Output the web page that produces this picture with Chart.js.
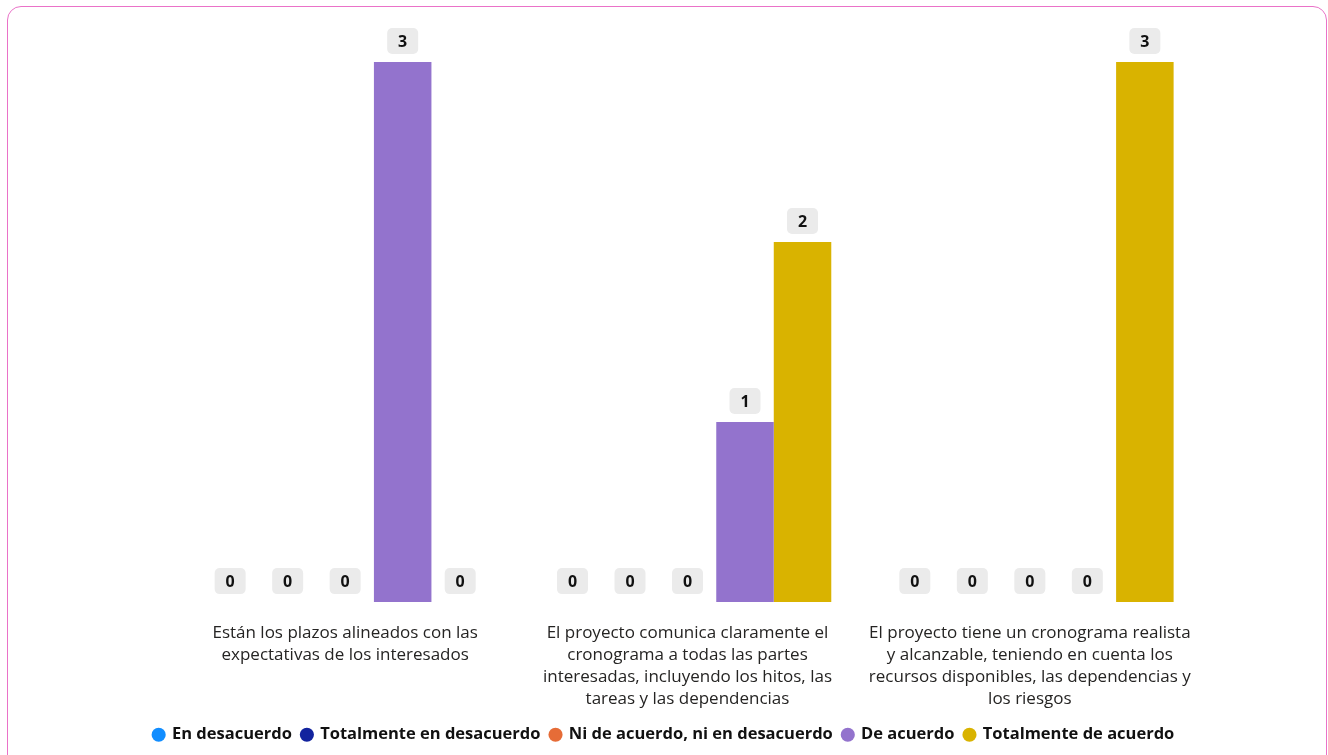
<!DOCTYPE html>
<html lang="es">
<head>
    <meta charset="UTF-8">
    <title>Plazos y cronograma</title>
    <script src="https://cdn.jsdelivr.net/npm/chart.js@4.4.0/dist/chart.umd.min.js"></script>
    <style>
        html, body { margin: 0; padding: 0; background: #fff; overflow: hidden; }
        .frame {
            position: absolute; left: 7px; top: 6px; width: 1320px; height: 800px;
            border: 1.5px solid #ea72c8; border-radius: 14px; box-sizing: border-box;
        }
        .wrap { position: absolute; left: 0; top: 0; width: 1328px; height: 755px; }
    </style>
</head>
<body>
    <div class="frame"></div>
    <div class="wrap"><canvas id="chart"></canvas></div>

    <script>
        // categories (x labels, already wrapped into lines)
        const categories = [
            ['Están los plazos alineados con las', 'expectativas de los interesados'],
            ['El proyecto comunica claramente el', 'cronograma a todas las partes', 'interesadas, incluyendo los hitos, las', 'tareas y las dependencias'],
            ['El proyecto tiene un cronograma realista', 'y alcanzable, teniendo en cuenta los', 'recursos disponibles, las dependencias y', 'los riesgos']
        ];

        const seriesNames = ['En desacuerdo', 'Totalmente en desacuerdo', 'Ni de acuerdo, ni en desacuerdo', 'De acuerdo', 'Totalmente de acuerdo'];
        const seriesColors = ['#118DFF', '#12239E', '#E66C37', '#9373CD', '#D9B300'];

        const enDesacuerdo = [0, 0, 0];
        const totalmenteEnDesacuerdo = [0, 0, 0];
        const niDeAcuerdo = [0, 0, 0];
        const deAcuerdo = [3, 1, 0];
        const totalmenteDeAcuerdo = [0, 2, 3];

        const seriesValues = [enDesacuerdo, totalmenteEnDesacuerdo, niDeAcuerdo, deAcuerdo, totalmenteDeAcuerdo];

        const FONT = "'Open Sans', 'Noto Sans', sans-serif";

        // grey value boxes above each bar
        const valueBoxes = {
            id: 'valueBoxes',
            afterDatasetsDraw(chart) {
                const ctx = chart.ctx;
                ctx.save();
                chart.data.datasets.forEach(function(ds, i) {
                    const meta = chart.getDatasetMeta(i);
                    if (meta.hidden) return;
                    meta.data.forEach(function(bar, j) {
                        const w = 31, h = 26;
                        const x = bar.x - w / 2;
                        const y = bar.y - 8 - h;
                        ctx.fillStyle = '#ebebeb';
                        ctx.beginPath();
                        ctx.roundRect(x, y, w, h, 5);
                        ctx.fill();
                        ctx.fillStyle = '#111';
                        ctx.font = 'bold 16px ' + FONT;
                        ctx.textAlign = 'center';
                        ctx.textBaseline = 'middle';
                        ctx.fillText(String(ds.data[j]), bar.x, y + h / 2 + 1);
                    });
                });
                ctx.restore();
            }
        };

        // invisible side axes just reserve room on the left and right
        const spacer = function(w) {
            return {
                display: true,
                grid: { display: false },
                border: { display: false },
                ticks: { display: false },
                afterFit: function(scale) { scale.width = w; }
            };
        };

        new Chart(document.getElementById('chart'), {
            type: 'bar',
            data: {
                labels: categories,
                datasets: seriesNames.map(function(name, i) {
                    return {
                        label: name,
                        data: seriesValues[i],
                        backgroundColor: seriesColors[i],
                        borderWidth: 0,
                        categoryPercentage: 0.84,
                        barPercentage: 1
                    };
                })
            },
            options: {
                responsive: true,
                maintainAspectRatio: false,
                animation: false,
                layout: { padding: { left: 0, right: 0, top: 62, bottom: 2 } },
                scales: {
                    x: {
                        grid: { display: false },
                        border: { display: false },
                        afterFit: function(scale) { scale.height -= 6; },
                        ticks: {
                            padding: 12,
                            maxRotation: 0,
                            autoSkip: false,
                            color: '#252423',
                            font: { family: FONT, size: 17, lineHeight: 1.3 }
                        }
                    },
                    y: Object.assign(spacer(174), { position: 'left', min: 0, max: 3 }),
                    yRight: Object.assign(spacer(127), { position: 'right', min: 0, max: 3 })
                },
                plugins: {
                    legend: {
                        position: 'bottom',
                        labels: {
                            usePointStyle: true,
                            pointStyle: 'circle',
                            boxWidth: 10,
                            boxHeight: 10,
                            padding: 10,
                            color: '#111',
                            font: { family: FONT, size: 16.5, weight: 'bold' }
                        }
                    },
                    tooltip: { enabled: false }
                }
            },
            plugins: [valueBoxes]
        });
    </script>
</body>
</html>
